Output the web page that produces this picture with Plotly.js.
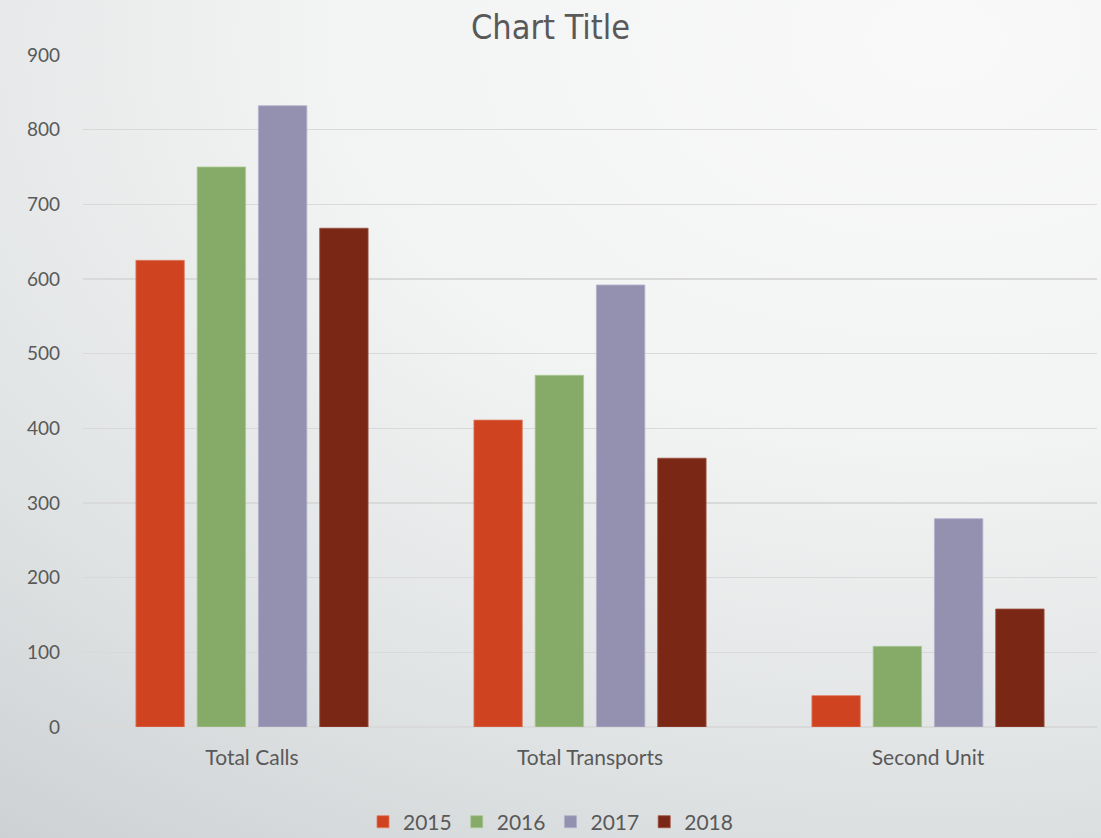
<!DOCTYPE html>
<html>
<head>
<meta charset="utf-8">
<script src="https://cdn.plot.ly/plotly-3.0.1.min.js"></script>
<style>
  html, body { margin: 0; padding: 0; }
  body {
    width: 1101px; height: 838px; overflow: hidden;
    background: radial-gradient(ellipse 140% 120% at 85% 5%, #f9f9f9 0%, #f2f3f3 40%, #dfe2e3 75%, #cdd1d3 100%);
  }
  #chart { width: 1101px; height: 838px; }
</style>
</head>
<body>
<div id="chart"></div>
<script>
// Call volumes by category and year
const categories = ["Total Calls", "Total Transports", "Second Unit"];
const years = ["2015", "2016", "2017", "2018"];
const values2015 = [625, 411, 42];
const values2016 = [750, 471, 108];
const values2017 = [832, 592, 279];
const values2018 = [668, 360, 158];
const yTicks = [0, 100, 200, 300, 400, 500, 600, 700, 800, 900];

const seriesValues = [values2015, values2016, values2017, values2018];
const fills = ["#cf4321", "#86aa68", "#9491b0", "#7b2715"];
const edges = ["#e07a5f", "#a9c890", "#b3b0cb", "#a0513f"];

const traces = years.map((yr, i) => ({
  type: "bar",
  name: yr,
  x: categories,
  y: seriesValues[i],
  marker: { color: fills[i], line: { color: edges[i], width: 0.8 } },
  hoverinfo: "x+y+name"
}));

const layout = {
  width: 1101,
  height: 838,
  paper_bgcolor: "rgba(0,0,0,0)",
  plot_bgcolor: "rgba(0,0,0,0)",
  margin: { l: 83, r: 4, t: 55, b: 111 },
  barmode: "group",
  bargap: 0.275,
  bargroupgap: 0.21,
  font: { family: "Lato, 'Open Sans', sans-serif", color: "#595959" },
  title: {
    text: "Chart Title",
    font: { family: "'DejaVu Sans Condensed', 'Liberation Sans Narrow', sans-serif", size: 34, color: "#595959" },
    x: 0.5, xanchor: "center",
    y: 0.968, yanchor: "middle", yref: "container"
  },
  xaxis: {
    type: "category",
    showgrid: false,
    showline: false,
    ticks: "",
    zeroline: false,
    tickfont: { size: 21, color: "#595959" },
    ticklabelstandoff: 16
  },
  yaxis: {
    range: [0, 900],
    tickvals: yTicks,
    ticktext: yTicks.map(String),
    showgrid: true,
    gridcolor: "#d9d9d9",
    gridwidth: 1.5,
    zeroline: true,
    zerolinecolor: "#d9d9d9",
    zerolinewidth: 1.5,
    showline: false,
    ticks: "",
    tickfont: { size: 19, color: "#595959" },
    ticklabelstandoff: 22,
    fixedrange: true
  },
  showlegend: true,
  legend: {
    orientation: "h",
    x: 0.5, xanchor: "center", xref: "container",
    y: 0.019, yanchor: "middle", yref: "container",
    font: { size: 21, color: "#595959" },
    itemwidth: 30,
    bgcolor: "rgba(0,0,0,0)"
  }
};

Plotly.newPlot("chart", traces, layout, { displayModeBar: false, staticPlot: true });
</script>
</body>
</html>
